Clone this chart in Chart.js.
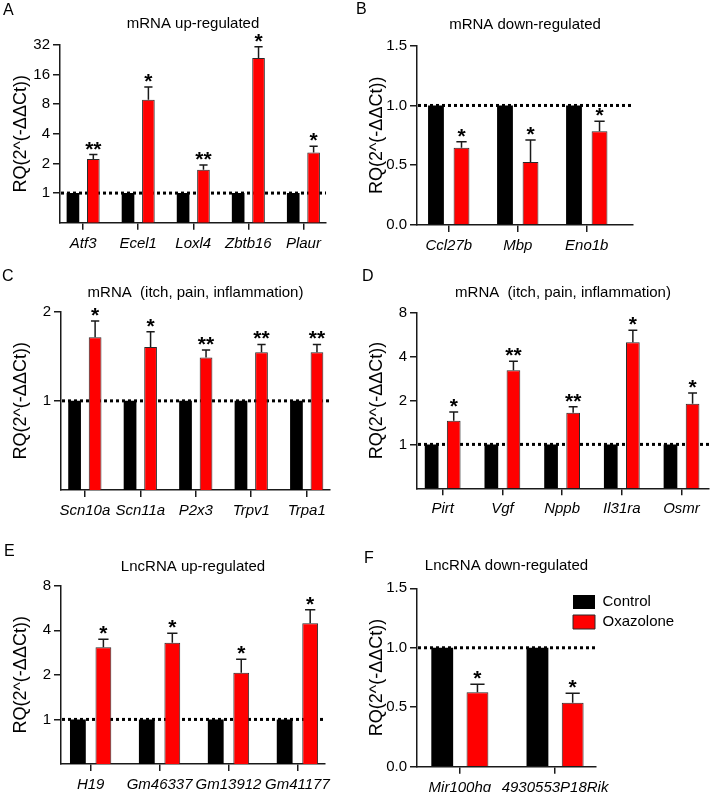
<!DOCTYPE html>
<html><head><meta charset="utf-8">
<script src="https://cdn.jsdelivr.net/npm/chart.js@4.4.1/dist/chart.umd.min.js"></script>
<style>
html,body{margin:0;padding:0;background:#fff;}
#wrap{position:relative;width:712px;height:792px;overflow:hidden;font-family:"Liberation Sans",Arial,Helvetica,sans-serif;}
canvas{position:absolute;}
.lab{position:absolute;font-size:16px;line-height:16px;color:#000;}
</style></head><body><div id="wrap">
<canvas id="cA" width="356" height="260" style="left:0px;top:0px"></canvas>
<canvas id="cB" width="356" height="260" style="left:356px;top:0px"></canvas>
<canvas id="cC" width="356" height="260" style="left:0px;top:260px"></canvas>
<canvas id="cD" width="356" height="260" style="left:356px;top:260px"></canvas>
<canvas id="cE" width="356" height="272" style="left:0px;top:520px"></canvas>
<canvas id="cF" width="356" height="272" style="left:356px;top:520px"></canvas>
<div class="lab" style="left:3px;top:2px">A</div>
<div class="lab" style="left:356px;top:1px">B</div>
<div class="lab" style="left:2px;top:268px">C</div>
<div class="lab" style="left:362px;top:268px">D</div>
<div class="lab" style="left:4px;top:543px">E</div>
<div class="lab" style="left:364px;top:550px">F</div>
</div>
<script>
// ---- data ----
const seriesNames = ['Control', 'Oxazolone'];
const yTitle = 'RQ(2^(-ΔΔCt))';

const catsA = ['Atf3', 'Ecel1', 'Loxl4', 'Zbtb16', 'Plaur'];
const ctrlA = [1, 1, 1, 1, 1];
const oxaA = [2.22, 8.9, 1.73, 23.6, 2.59];
const semA = [0.24, 3.1, 0.2, 7.1, 0.4];
const sigA = ['**', '*', '**', '*', '*'];
const yTicksA = [1, 2, 4, 8, 16, 32];

const catsB = ['Ccl27b', 'Mbp', 'Eno1b'];
const ctrlB = [1, 1, 1];
const oxaB = [0.647, 0.527, 0.784];
const semB = [0.05, 0.184, 0.084];
const sigB = ['*', '*', '*'];
const yTicksB = [0, 0.5, 1.0, 1.5];

const catsC = ['Scn10a', 'Scn11a', 'P2x3', 'Trpv1', 'Trpa1'];
const ctrlC = [1, 1, 1, 1, 1];
const oxaC = [1.64, 1.52, 1.40, 1.46, 1.46];
const semC = [0.22, 0.19, 0.085, 0.09, 0.09];
const sigC = ['*', '*', '**', '**', '**'];
const yTicksC = [1, 2];

const catsD = ['Pirt', 'Vgf', 'Nppb', 'Il31ra', 'Osmr'];
const ctrlD = [1, 1, 1, 1, 1];
const oxaD = [1.45, 3.22, 1.65, 5.02, 1.90];
const semD = [0.22, 0.5, 0.16, 1.05, 0.35];
const sigD = ['*', '**', '**', '*', '*'];
const yTicksD = [1, 2, 4, 8];

const catsE = ['H19', 'Gm46337', 'Gm13912', 'Gm41177'];
const ctrlE = [1, 1, 1, 1];
const oxaE = [3.07, 3.30, 2.07, 4.46];
const semE = [0.41, 0.52, 0.48, 1.04];
const sigE = ['*', '*', '*', '*'];
const yTicksE = [1, 2, 4, 8];

const catsF = ['Mir100hg', '4930553P18Rik'];
const ctrlF = [1, 1];
const oxaF = [0.626, 0.538];
const semF = [0.067, 0.079];
const sigF = ['*', '*'];
const yTicksF = [0, 0.5, 1.0, 1.5];

// ---- rendering ----
Chart.defaults.font.family = '"Liberation Sans", Arial, Helvetica, sans-serif';
Chart.defaults.color = '#000';
Chart.defaults.animation = false;
const INK = '#1a1a1a';

const marks = {
  id: 'marks',
  beforeDatasetsDraw(chart, args, o) {
    const {ctx, chartArea: a} = chart;
    const y = chart.scales.y;
    const py = y.getPixelForValue(o.ref);
    ctx.save();
    ctx.setLineDash([3, 3]);
    ctx.lineWidth = 3;
    ctx.strokeStyle = '#000';
    ctx.beginPath();
    ctx.moveTo(a.left + 1, py);
    ctx.lineTo(a.right, py);
    ctx.stroke();
    ctx.restore();
  },
  afterDatasetsDraw(chart, args, o) {
    const {ctx} = chart;
    const y = chart.scales.y;
    const meta = chart.getDatasetMeta(1);
    const ds = chart.data.datasets[1];
    ctx.save();
    meta.data.forEach((bar, i) => {
      const v = ds.data[i].y;
      const top = y.getPixelForValue(v + o.sem[i]);
      const cap = bar.width * 0.65;
      ctx.strokeStyle = INK;
      ctx.lineWidth = 1.5;
      ctx.beginPath();
      ctx.moveTo(bar.x, bar.y);
      ctx.lineTo(bar.x, top);
      ctx.moveTo(bar.x - cap / 2, top);
      ctx.lineTo(bar.x + cap / 2, top);
      ctx.stroke();
      ctx.fillStyle = '#000';
      ctx.font = 'bold 21px "Liberation Sans", Arial, sans-serif';
      ctx.textAlign = 'center';
      ctx.textBaseline = 'alphabetic';
      ctx.fillText(o.sig[i], bar.x, top + 1);
    });
    ctx.restore();
  }
};

const legendPlacer = {
  id: 'legendPlacer',
  afterLayout(chart, args, o) {
    const L = chart.legend, a = chart.chartArea;
    if (!L) return;
    L.left = a.right + o.dx; L.top = a.top + o.dy;
    L.right = L.left + o.w; L.bottom = L.top + o.h;
  }
};

function panel(p) {
  const cv = document.getElementById(p.id);
  const W = cv.width, H = cv.height;
  const pts = arr => arr.map((v, i) => ({x: i, y: v}));
  const axisCommon = {
    border: {display: true, color: INK, width: 1.5},
    grid: {display: true, drawOnChartArea: false, drawTicks: true, tickLength: 7, color: INK, lineWidth: 1.5, offset: false}
  };
  const yScale = Object.assign({}, axisCommon, {
    type: p.log ? 'logarithmic' : 'linear',
    position: 'left',
    min: p.ymin, max: p.ymax,
    afterBuildTicks: s => { s.ticks = p.yticks.map(v => ({value: v})); },
    afterFit: s => { s.width = p.area.left; },
    ticks: {font: {size: 15}, padding: 3, color: '#000',
      callback: v => p.log ? String(v) : Number(v).toFixed(1)},
    title: {display: true, text: yTitle, font: {size: 18}, color: '#000', padding: {top: 10, bottom: 0}}
  });
  const xScale = Object.assign({}, axisCommon, {
    type: 'linear',
    position: 'bottom',
    offset: false,
    min: p.xmin, max: p.xmax,
    afterBuildTicks: s => { s.ticks = p.cats.map((c, i) => ({value: i})); },
    afterFit: s => { s.height = H - p.area.bottom; },
    ticks: {autoSkip: false, maxRotation: 0, minRotation: 0, padding: 5, color: '#000',
      font: {size: 15, style: 'italic'},
      callback: v => p.cats[v]}
  });
  const plugins = [marks];
  if (p.legend) plugins.push(legendPlacer);
  return new Chart(cv, {
    type: 'bar',
    data: {
      datasets: [
        {label: seriesNames[0], data: pts(p.ctrl), backgroundColor: '#000', borderColor: '#000', borderWidth: 0,
         categoryPercentage: 0.74, barPercentage: 0.62},
        {label: seriesNames[1], data: pts(p.oxa), backgroundColor: '#ff0000', borderColor: '#2a2a2a', borderWidth: 1,
         categoryPercentage: 0.74, barPercentage: 0.62}
      ]
    },
    options: {
      responsive: false,
      animation: false,
      layout: {padding: {left: 0, top: 0, bottom: 0, right: W - p.area.right}},
      scales: {x: xScale, y: yScale},
      plugins: {
        title: {display: true, text: p.title, fullSize: false, color: '#000',
          font: {size: 15, weight: 'normal'},
          padding: {top: p.tc - 9, bottom: p.area.top - p.tc - 9}},
        legend: p.legend ? {display: true, position: 'chartArea', align: 'start',
          labels: {boxWidth: 22, boxHeight: 14, padding: 5, color: '#000', font: {size: 15}}} : {display: false},
        tooltip: {enabled: false},
        marks: {ref: 1, sem: p.sem, sig: p.sig},
        legendPlacer: p.legend ? {dx: -28, dy: 1.2, w: 130, h: 60} : {}
      }
    },
    plugins
  });
}

panel({id: 'cA', title: 'mRNA up-regulated', cats: catsA, ctrl: ctrlA, oxa: oxaA, sem: semA, sig: sigA,
  log: true, ymin: 0.5, ymax: 32, yticks: yTicksA, xmin: -0.42, xmax: 4.41,
  area: {left: 60, right: 326, top: 45, bottom: 222.7}, tc: 24});
panel({id: 'cB', title: 'mRNA down-regulated', cats: catsB, ctrl: ctrlB, oxa: oxaB, sem: semB, sig: sigB,
  log: false, ymin: 0, ymax: 1.5, yticks: yTicksB, xmin: -0.46, xmax: 2.67,
  area: {left: 61, right: 277, top: 45.7, bottom: 225}, tc: 25});
panel({id: 'cC', title: 'mRNA  (itch, pain, inflammation)', cats: catsC, ctrl: ctrlC, oxa: oxaC, sem: semC, sig: sigC,
  log: true, ymin: 0.5, ymax: 2, yticks: yTicksC, xmin: -0.43, xmax: 4.42,
  area: {left: 61, right: 330, top: 51.7, bottom: 230}, tc: 33});
panel({id: 'cD', title: 'mRNA  (itch, pain, inflammation)', cats: catsD, ctrl: ctrlD, oxa: oxaD, sem: semD, sig: sigD,
  log: true, ymin: 0.5, ymax: 8, yticks: yTicksD, xmin: -0.43, xmax: 4.46,
  area: {left: 61, right: 353, top: 52.7, bottom: 228.3}, tc: 33.3});
panel({id: 'cE', title: 'LncRNA up-regulated', cats: catsE, ctrl: ctrlE, oxa: oxaE, sem: semE, sig: sigE,
  log: true, ymin: 0.5, ymax: 8, yticks: yTicksE, xmin: -0.43, xmax: 3.40,
  area: {left: 61, right: 325, top: 65.7, bottom: 244}, tc: 47.3});
panel({id: 'cF', title: 'LncRNA down-regulated', cats: catsF, ctrl: ctrlF, oxa: oxaF, sem: semF, sig: sigF,
  log: false, ymin: 0, ymax: 1.5, yticks: yTicksF, xmin: -0.45, xmax: 1.43,
  area: {left: 61, right: 240, top: 68.3, bottom: 246.7}, tc: 46, legend: true});
</script>
</body></html>
